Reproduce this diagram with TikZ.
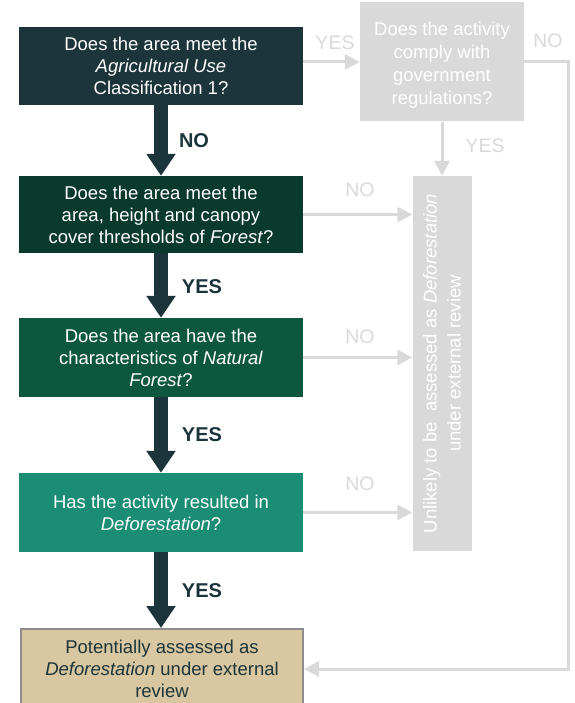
\documentclass[tikz,border=0pt]{standalone}
\usepackage{fontspec}
\setmainfont{Liberation Sans}
\usetikzlibrary{arrows.meta}
\definecolor{slate}{HTML}{1B353A}
\definecolor{forestA}{HTML}{093A2C}
\definecolor{forestB}{HTML}{0D573F}
\definecolor{forestC}{HTML}{1B8D75}
\definecolor{sand}{HTML}{D8C7A0}
\definecolor{sandedge}{HTML}{8C8C8C}
\definecolor{mist}{HTML}{D9D9D9}
\begin{document}
\begin{tikzpicture}[x=1pt,y=-1pt,
  qbox/.style={rectangle, inner sep=0pt, minimum width=284pt, text=white,
    align=center, font=\fontsize{18.5}{22}\selectfont},
  greybox/.style={rectangle, inner sep=0pt, fill=mist},
  greytext/.style={text=white, align=center, inner sep=0pt},
  mainflow/.style={slate, line width=14pt,
    -{Triangle[length=22pt,width=28pt]}},
  sideflow/.style={mist, line width=3pt,
    -{Triangle[length=15pt,width=15pt]}},
  boldlbl/.style={text=slate, font=\fontsize{20}{24}\selectfont\bfseries},
  greylbl/.style={text=mist, font=\fontsize{19.5}{24}\selectfont},
]
\useasboundingbox (0,0) rectangle (574,703);

% main decision column
\node[qbox, fill=slate, minimum height=78pt] (b1) at (161,66)
  {Does the area meet the\\\textit{Agricultural Use}\\Classification 1?};
\node[qbox, fill=forestA, minimum height=77pt] (b2) at (161,214.5)
  {Does the area meet the\\area, height and canopy\\cover thresholds of \textit{Forest}?};
\node[qbox, fill=forestB, minimum height=79pt] (b3) at (161,357.5)
  {Does the area have the\\characteristics of \textit{Natural}\\\textit{Forest}?};
\node[qbox, fill=forestC, minimum height=79pt] (b4) at (161,512.5)
  {Has the activity resulted in\\\textit{Deforestation}?};
\node[qbox, fill=sand, draw=sandedge, line width=2pt, text=slate,
  minimum width=282pt, minimum height=80pt] (b5) at (162,669)
  {Potentially assessed as\\\textit{Deforestation} under external\\review};

% side column
\node[greybox, minimum width=164pt, minimum height=119pt] (reg) at (442,62) {};
\node[greytext, font=\fontsize{18.5}{23}\selectfont] (regText) at (442,65)
  {Does the activity\\comply with\\government\\regulations?};
\node[greybox, minimum width=59pt, minimum height=375pt] (tall) at (442,363.5) {};
\node[greytext, rotate=90, font=\fontsize{18.5}{24}\selectfont] (tallText)
  at (tall.center)
  {Unlikely to be\ \ assessed as \textit{Deforestation}\\under external review};
\coordinate (edge) at (568,62);

% main flow arrows
\draw[mainflow] (b1.south) -- (b2.north);
\draw[mainflow] (b2.south) -- (b3.north);
\draw[mainflow] (b3.south) -- (b4.north);
\draw[mainflow] (b4.south) -- (b4.south |- b5.north);

% side flow arrows
\draw[sideflow] (reg.west -| b1.east) -- (reg.west);
\draw[sideflow] (reg.south) -- (tall.north);
\draw[sideflow] (b2.east) -- (b2.east -| tall.west);
\draw[sideflow] (b3.east) -- (b3.east -| tall.west);
\draw[sideflow] (b4.east) -- (b4.east -| tall.west);
\draw[sideflow] (reg.east) -- (edge) -- (edge |- b5.east) -- (b5.east);

% labels
\node[boldlbl] (l1) at (194,141) {NO};
\node[boldlbl] (l2) at (202,287) {YES};
\node[boldlbl] (l3) at (202,435) {YES};
\node[boldlbl] (l4) at (202,590.5) {YES};
\node[greylbl] (g1) at (335,43) {YES};
\node[greylbl] (g2) at (548,41) {NO};
\node[greylbl] (g3) at (485,146) {YES};
\node[greylbl] (g4) at (360,190) {NO};
\node[greylbl] (g5) at (360,337) {NO};
\node[greylbl] (g6) at (360,483.5) {NO};
\end{tikzpicture}
\end{document}
